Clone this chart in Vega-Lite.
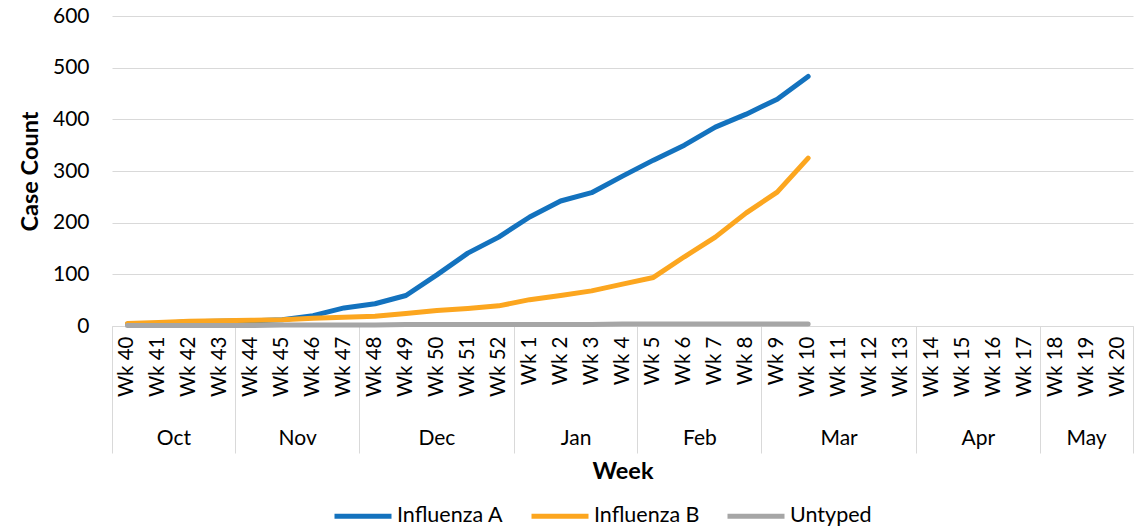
{
  "$schema": "https://vega.github.io/schema/vega-lite/v6.json",
  "width": 1021,
  "height": 310,
  "autosize": {"type": "none"},
  "padding": {"left": 112, "top": 16, "right": 7, "bottom": 204},
  "background": "white",
  "config": {
    "font": "Lato",
    "view": {"stroke": null},
    "axis": {"labelFont": "Lato", "titleFont": "Lato", "labelColor": "#000000", "titleColor": "#000000"},
    "legend": {"labelFont": "Lato", "labelColor": "#000000"}
  },
  "data": {
    "values": [
      {"week": "Wk 40", "Influenza A": 4, "Influenza B": 5, "Untyped": 1},
      {"week": "Wk 41", "Influenza A": 5, "Influenza B": 7, "Untyped": 1},
      {"week": "Wk 42", "Influenza A": 8, "Influenza B": 9, "Untyped": 1},
      {"week": "Wk 43", "Influenza A": 9, "Influenza B": 10, "Untyped": 1},
      {"week": "Wk 44", "Influenza A": 10, "Influenza B": 11, "Untyped": 1},
      {"week": "Wk 45", "Influenza A": 12, "Influenza B": 12, "Untyped": 2},
      {"week": "Wk 46", "Influenza A": 20, "Influenza B": 15, "Untyped": 2},
      {"week": "Wk 47", "Influenza A": 35, "Influenza B": 17, "Untyped": 2},
      {"week": "Wk 48", "Influenza A": 43, "Influenza B": 19, "Untyped": 2},
      {"week": "Wk 49", "Influenza A": 59, "Influenza B": 24, "Untyped": 3},
      {"week": "Wk 50", "Influenza A": 99, "Influenza B": 30, "Untyped": 3},
      {"week": "Wk 51", "Influenza A": 141, "Influenza B": 34, "Untyped": 3},
      {"week": "Wk 52", "Influenza A": 172, "Influenza B": 39, "Untyped": 3},
      {"week": "Wk 1", "Influenza A": 211, "Influenza B": 51, "Untyped": 3},
      {"week": "Wk 2", "Influenza A": 242, "Influenza B": 59, "Untyped": 3},
      {"week": "Wk 3", "Influenza A": 258, "Influenza B": 68, "Untyped": 3},
      {"week": "Wk 4", "Influenza A": 290, "Influenza B": 81, "Untyped": 4},
      {"week": "Wk 5", "Influenza A": 321, "Influenza B": 94, "Untyped": 4},
      {"week": "Wk 6", "Influenza A": 350, "Influenza B": 134, "Untyped": 4},
      {"week": "Wk 7", "Influenza A": 385, "Influenza B": 172, "Untyped": 4},
      {"week": "Wk 8", "Influenza A": 410, "Influenza B": 219, "Untyped": 4},
      {"week": "Wk 9", "Influenza A": 439, "Influenza B": 259, "Untyped": 4},
      {"week": "Wk 10", "Influenza A": 483, "Influenza B": 325, "Untyped": 4}
    ]
  },
  "transform": [{"fold": ["Influenza A", "Influenza B", "Untyped"], "as": ["type", "count"]}],
  "layer": [
    {
      "mark": {"type": "line", "strokeWidth": 5, "strokeCap": "round", "strokeJoin": "round"},
      "encoding": {
        "x": {
          "field": "week", "type": "ordinal",
          "scale": {"type": "band", "paddingInner": 0, "paddingOuter": 0,
            "domain": ["Wk 40","Wk 41","Wk 42","Wk 43","Wk 44","Wk 45","Wk 46","Wk 47","Wk 48","Wk 49","Wk 50","Wk 51","Wk 52","Wk 1","Wk 2","Wk 3","Wk 4","Wk 5","Wk 6","Wk 7","Wk 8","Wk 9","Wk 10","Wk 11","Wk 12","Wk 13","Wk 14","Wk 15","Wk 16","Wk 17","Wk 18","Wk 19","Wk 20"]},
          "axis": {"orient": "bottom", "title": null, "labelAngle": -90, "labelFontSize": 20.5, "labelPadding": 10, "ticks": false, "domain": true, "domainColor": "#D9D9D9", "domainWidth": 1, "grid": false, "labelOverlap": false, "labelBound": false, "labelFlush": false}
        },
        "y": {
          "field": "count", "type": "quantitative",
          "scale": {"domain": [0, 600], "nice": false},
          "axis": {"title": "Case Count", "titleFontSize": 23.5, "titleFontWeight": "bold", "titlePadding": 10, "labelFontSize": 21, "labelPadding": 23, "ticks": false, "domain": false, "grid": true, "gridColor": "#D9D9D9", "gridWidth": 1, "values": [0, 100, 200, 300, 400, 500, 600]}
        },
        "color": {
          "field": "type", "type": "nominal",
          "scale": {"domain": ["Influenza A", "Influenza B", "Untyped"], "range": ["#1372BE", "#FCA61F", "#A6A6A6"]},
          "legend": {"orient": "none", "legendX": 220, "legendY": 469, "padding": 0, "direction": "horizontal", "title": null, "symbolType": "stroke", "symbolStrokeWidth": 5, "symbolSize": 3249, "labelFontSize": 21.5, "labelOffset": 3, "columnPadding": 17}
        }
      }
    },
    {
      "mark": {"type": "point", "opacity": 0},
      "encoding": {
        "x": {
          "field": "week", "type": "ordinal",
          "scale": {"type": "band", "paddingInner": 0, "paddingOuter": 0},
          "axis": {"orient": "bottom", "title": null, "values": ["Wk 43","Wk 47","Wk 52","Wk 4","Wk 8","Wk 13","Wk 17","Wk 20"], "bandPosition": 1, "ticks": true, "tickSize": 127, "tickColor": "#D9D9D9", "tickWidth": 1, "labels": false, "domain": false, "grid": false}
        }
      }
    },
    {
      "mark": {"type": "point", "opacity": 0},
      "encoding": {
        "x": {
          "field": "week", "type": "ordinal",
          "scale": {"type": "band", "paddingInner": 0, "paddingOuter": 0},
          "axis": {"orient": "bottom", "title": null, "values": ["Wk 40"], "bandPosition": 0, "ticks": true, "tickSize": 127, "tickColor": "#D9D9D9", "tickWidth": 1, "labels": false, "domain": false, "grid": false}
        }
      }
    },
    {
      "mark": {"type": "point", "opacity": 0},
      "encoding": {
        "x": {
          "field": "week", "type": "ordinal",
          "scale": {"type": "band", "paddingInner": 0, "paddingOuter": 0},
          "axis": {"orient": "bottom", "title": "Week", "titleFontSize": 23.5, "titleFontWeight": "bold", "titlePadding": 11, "values": ["Wk 50","Wk 11","Wk 19"], "labelExpr": "datum.value == 'Wk 50' ? 'Dec' : datum.value == 'Wk 11' ? 'Mar' : 'May'", "labelAngle": 0, "labelFontSize": 21, "labelPadding": 101, "ticks": false, "tickSize": 0, "domain": false, "grid": false, "labelOverlap": false}
        }
      }
    },
    {
      "mark": {"type": "point", "opacity": 0},
      "encoding": {
        "x": {
          "field": "week", "type": "ordinal",
          "scale": {"type": "band", "paddingInner": 0, "paddingOuter": 0},
          "axis": {"orient": "bottom", "title": null, "values": ["Wk 42","Wk 46","Wk 3","Wk 7","Wk 16"], "labelOffset": -15.47, "labelExpr": "datum.value == 'Wk 42' ? 'Oct' : datum.value == 'Wk 46' ? 'Nov' : datum.value == 'Wk 3' ? 'Jan' : datum.value == 'Wk 7' ? 'Feb' : 'Apr'", "labelAngle": 0, "labelFontSize": 21, "labelPadding": 101, "ticks": false, "tickSize": 0, "domain": false, "grid": false, "labelOverlap": false}
        }
      }
    }
  ],
  "resolve": {"axis": {"x": "independent"}}
}
